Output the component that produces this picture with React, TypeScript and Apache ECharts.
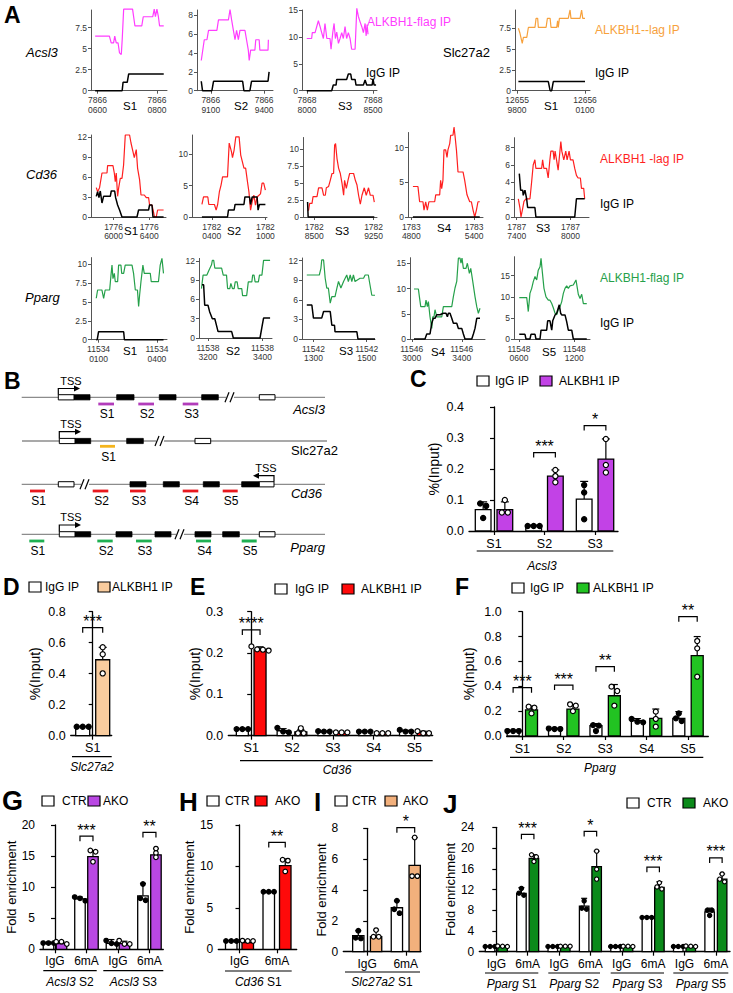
import React, { useEffect, useRef } from "react";
import * as echarts from "echarts";

const FONT = '"Liberation Sans", Arial, Helvetica, sans-serif';

// ---------------- Panel A : coverage tracks ----------------
const MAGENTA = "#ff3dff";
const ORANGE = "#f7a13c";
const RED = "#ff1f1f";
const GREEN = "#25a04a";

const acsl3S1Base = 78660000;
const acsl3S1Ticks = [600, 800];
const acsl3S1YTicks = [0, 2.5, 5, 7.5];
const acsl3S1Flag = [[592,6.5],[640,6.5],[646,5.7],[654,5.7],[658,6.5],[663,5.7],[669,5.7],[674,4.5],[680,4.3],[683,6.0],[688,9.7],[718,9.7],[726,7.7],[749,7.7],[754,8.8],[786,8.8],[791,9.7],[795,8.8],[800,9.7],[805,8.8],[809,7.7],[823,7.7]];
const acsl3S1IgG = [[592,0],[683,0],[686,1],[700,1],[705,2],[823,2]];

const acsl3S2Base = 78660000;
const acsl3S2Ticks = [9100, 9400];
const acsl3S2YTicks = [0, 2, 4, 6, 8];
const acsl3S2Flag = [[9046,3.2],[9063,5.4],[9078,5.4],[9087,6.4],[9134,6.4],[9143,7.5],[9199,7.5],[9208,8.6],[9217,7.5],[9227,6.4],[9236,5.4],[9245,6.4],[9255,5.4],[9264,6.4],[9292,6.4],[9301,5.4],[9311,4.3],[9316,3.2],[9324,4.3],[9348,4.3],[9353,5.4],[9372,5.4],[9376,4.3],[9422,4.3],[9424,5.4]];
const acsl3S2IgG = [[9046,1],[9053,0],[9106,0],[9115,1],[9279,1],[9286,0],[9320,0],[9329,1],[9422,1],[9428,2]];

const acsl3S3Base = 78680000;
const acsl3S3Ticks = [8000, 8500];
const acsl3S3YTicks = [0, 5, 10, 15];
const acsl3S3Flag = [[7998,9.7],[8035,9.7],[8040,10.8],[8061,10.8],[8086,13.0],[8099,11.9],[8111,10.8],[8124,9.7],[8136,12.5],[8150,9.7],[8174,9.7],[8182,7.7],[8195,10.8],[8205,12.5],[8215,9.7],[8225,10.9],[8238,8.8],[8250,9.7],[8263,10.8],[8275,9.7],[8288,11.9],[8300,9.7],[8313,10.8],[8326,9.7],[8338,7.7],[8364,7.7],[8377,15.3],[8389,13.8],[8402,12.8],[8415,11.9],[8427,10.8],[8440,12.5],[8448,10.2],[8455,12.3],[8462,10.5]];
const acsl3S3IgG = [[7998,0],[8187,0],[8199,1.05],[8220,1.05],[8225,2.1],[8300,2.1],[8313,3.1],[8331,3.1],[8338,2.1],[8364,2.1],[8371,1.05],[8427,1.05],[8440,2],[8452,1.05],[8493,1.05],[8500,2.2],[8508,1.05],[8523,1.05]];

const slc27a2S1Base = 126550000;
const slc27a2S1Ticks = [9800, 10100];
const slc27a2S1YTicks = [0, 2.5, 5, 7.5];
const slc27a2S1Flag = [[9806,7.5],[9813,6.9],[9823,5.7],[9828,6.4],[9843,6.4],[9850,7.6],[9879,7.6],[9884,8.7],[9891,8.7],[9894,7.6],[9928,7.6],[9934,8.7],[9946,8.7],[9950,7.6],[9975,7.6],[9979,8.4],[9982,7.6],[9987,8.7],[10026,8.7],[10034,9.7],[10038,8.7],[10078,8.7],[10085,9.7],[10090,8.7],[10100,8.7]];
const slc27a2S1IgG = [[9806,1.1],[9938,1.1],[9946,0],[9953,0],[9960,1.1],[10100,1.1]];

const cd36S1Base = 17760000;
const cd36S1Ticks = [6000, 6400];
const cd36S1YTicks = [0, 3, 6, 9, 12];
const cd36S1Flag = [[5806,4.4],[5821,3.8],[5843,4.4],[5870,6.6],[5926,6.6],[5933,7.7],[5993,7.7],[6008,6.6],[6019,5.3],[6030,6.6],[6045,3.1],[6056,4.3],[6075,5.8],[6094,5.8],[6112,7.8],[6131,12.3],[6179,12.3],[6195,11.1],[6217,9.8],[6232,8.9],[6254,10.1],[6269,7.3],[6291,5.6],[6307,3.3],[6344,3.3],[6366,2.9],[6392,2.9],[6403,1.8],[6430,1.8],[6448,0.7],[6459,0],[6478,0],[6493,1.05],[6560,1.05]];
const cd36S1IgG = [[5806,3.1],[5821,3.8],[5836,2.9],[5851,3.9],[5870,2.1],[5888,3.1],[5963,3.1],[5974,3.9],[6012,3.9],[6023,2.9],[6045,1.8],[6067,1.05],[6094,0],[6262,0],[6280,1.05],[6392,1.05],[6403,1.8],[6430,1.8],[6441,0],[6560,0]];

const cd36S2Base = 17820000;
const cd36S2Ticks = [400, 1000];
const cd36S2YTicks = [0, 5, 10];
const cd36S2Flag = [[290,2.0],[308,3.2],[356,3.2],[367,2.0],[430,2.0],[449,1.1],[466,2.0],[485,4.0],[504,5.1],[521,6.4],[576,6.4],[595,11.8],[621,10.4],[632,9.5],[650,10.7],[669,12.8],[706,12.8],[724,9.9],[760,7.8],[779,7.8],[797,5.9],[816,4.0],[834,1.1],[852,2.4],[871,3.5],[889,1.9],[907,3.2],[945,3.7],[963,5.4],[981,5.4],[1000,4.3]];
const cd36S2IgG = [[290,0],[576,0],[587,1.1],[650,1.1],[661,2.0],[760,2.0],[771,3.2],[822,3.2],[834,2.0],[852,3.2],[907,3.2],[918,1.1],[933,2.0],[1000,2.0]];

const cd36S3Base = 17820000;
const cd36S3Ticks = [8500, 9250];
const cd36S3YTicks = [0, 2.5, 5, 7.5, 10];
const cd36S3Flag = [[8415,1.0],[8428,1.0],[8441,2.0],[8471,2.0],[8484,3.0],[8534,3.0],[8554,4.3],[8597,4.3],[8618,3.2],[8639,3.2],[8652,4.3],[8681,4.5],[8702,5.4],[8724,6.4],[8744,6.4],[8757,10.6],[8769,10.8],[8787,8.6],[8807,7.2],[8829,6.4],[8850,5.0],[8871,3.2],[8883,5.4],[8905,4.2],[8926,5.4],[8947,6.4],[8997,6.4],[9019,5.4],[9040,4.7],[9060,3.2],[9082,1.9],[9103,3.2],[9132,4.3],[9157,3.2],[9186,4.3],[9208,3.2],[9243,3.2],[9259,2.2]];
const cd36S3IgG = [[8415,2.2],[8422,0],[9259,0]];

const cd36S4Base = 17830000;
const cd36S4Ticks = [4800, 5400];
const cd36S4YTicks = [0, 5, 10];
const cd36S4Flag = [[4815,4.4],[4863,4.4],[4879,2.2],[4911,2.2],[4921,1.0],[4937,2.2],[4953,1.0],[4968,2.2],[5023,2.2],[5033,3.2],[5071,3.2],[5080,5.3],[5090,4.1],[5102,5.3],[5112,9.7],[5128,9.7],[5141,8.6],[5150,9.7],[5167,10.6],[5176,11.8],[5198,11.8],[5208,13.0],[5217,11.8],[5231,9.7],[5246,6.5],[5294,6.5],[5310,5.3],[5332,3.2],[5358,2.2],[5374,2.2],[5390,1.0],[5406,0],[5422,1.0],[5437,2.2],[5454,2.2]];
const cd36S4IgG = [[4815,0],[5454,0]];

const cd36S5Base = 17870000;
const cd36S5Ticks = [7400, 8000];
const cd36S5YTicks = [0, 2, 4, 6, 8];
const cd36S5Flag = [[7418,2.1],[7437,1.0],[7448,0],[7467,1.0],[7481,1.8],[7503,2.1],[7548,2.1],[7567,4.1],[7584,6.0],[7603,6.6],[7614,5.6],[7678,5.6],[7689,6.6],[7703,5.6],[7733,5.6],[7751,4.5],[7770,6.6],[7781,7.6],[7806,7.6],[7817,6.6],[7828,7.6],[7844,6.6],[7862,5.4],[7873,6.6],[7892,8.7],[7903,7.6],[7925,6.6],[7947,7.6],[7962,6.6],[7984,7.6],[7999,6.6],[8028,6.6],[8047,5.6],[8066,4.8],[8084,4.5],[8110,4.5],[8122,3.3],[8147,3.3],[8158,2.1]];
const cd36S5IgG = [[7429,5.0],[7444,3.1],[7467,3.1],[7473,2.5],[7492,3.1],[7511,2.1],[7522,1.1],[7603,1.1],[7614,0],[8047,0],[8066,2.1],[8158,2.1]];

const ppargS1Base = 115340000;
const ppargS1Ticks = [100, 400];
const ppargS1YTicks = [0, 2.5, 5, 7.5, 10];
const ppargS1Flag = [[88,5.5],[95,6.6],[117,6.6],[126,5.5],[134,6.6],[157,6.6],[164,8.6],[169,9.9],[174,8.1],[181,8.8],[186,7.7],[198,7.7],[203,9.9],[215,9.9],[219,8.8],[229,8.8],[237,9.9],[272,9.9],[280,8.8],[289,6.6],[300,6.6],[306,4.4],[311,5.9],[318,7.7],[328,9.9],[335,8.8],[366,8.8],[371,7.7],[408,7.7],[417,9.9],[426,10.8],[434,8.8]];
const ppargS1IgG = [[88,0],[93,0],[100,1.06],[229,1.06],[233,0],[434,0]];

const ppargS2Base = 115380000;
const ppargS2Ticks = [3200, 3400];
const ppargS2YTicks = [0, 3, 6, 9, 12];
const ppargS2Flag = [[3176,7.7],[3182,9.8],[3196,9.8],[3204,10.6],[3213,11.4],[3216,12.1],[3221,12.1],[3225,10.9],[3250,10.9],[3256,9.8],[3268,9.8],[3272,7.7],[3280,7.7],[3284,8.5],[3290,7.7],[3296,7.7],[3300,8.75],[3307,8.75],[3311,7.7],[3324,7.7],[3327,6.6],[3342,6.6],[3348,8.75],[3361,8.75],[3364,9.8],[3369,9.8],[3373,8.75],[3385,8.75],[3389,9.8],[3398,9.8],[3404,12.1],[3428,12.1]];
const ppargS2IgG = [[3178,8.3],[3184,8.3],[3188,5.1],[3200,5.1],[3206,4.1],[3216,3.0],[3225,3.0],[3231,2.0],[3237,1.0],[3287,1.0],[3293,0],[3391,0],[3398,1.7],[3404,3.1],[3428,3.1]];

const ppargS3Base = 115420000;
const ppargS3Ticks = [1300, 1500];
const ppargS3YTicks = [0, 3, 6, 9, 12];
const ppargS3Flag = [[1275,9.8],[1322,9.8],[1328,10.8],[1331,12.1],[1338,12.1],[1344,9.3],[1350,7.8],[1356,7.8],[1363,5.5],[1369,6.5],[1381,6.5],[1388,7.8],[1394,8.8],[1403,7.8],[1413,8.8],[1425,9.8],[1431,8.8],[1438,9.8],[1444,8.8],[1450,9.8],[1456,8.8],[1475,9.3],[1488,9.3],[1494,9.8],[1506,9.8],[1510,8.8],[1519,6.7],[1531,6.7]];
const ppargS3IgG = [[1275,5.2],[1294,5.2],[1300,3.2],[1331,3.2],[1338,4.2],[1363,4.2],[1369,2.1],[1379,2.1],[1381,1.1],[1463,1.1],[1467,0],[1531,0]];

const ppargS4Base = 115460000;
const ppargS4Ticks = [3000, 3400];
const ppargS4YTicks = [0, 5, 10, 15];
const ppargS4Flag = [[3018,9.9],[3053,9.9],[3061,8.4],[3072,6.4],[3106,6.4],[3114,7.7],[3125,6.4],[3133,7.4],[3146,4.4],[3160,2.1],[3168,4.4],[3178,4.4],[3186,5.8],[3200,4.4],[3240,4.4],[3253,6.4],[3320,6.4],[3333,8.4],[3346,10.1],[3360,11.4],[3373,16.0],[3386,16.0],[3394,15.0],[3402,16.0],[3413,14.0],[3434,14.0],[3445,15.0],[3461,13.0],[3472,14.0],[3488,11.4],[3506,8.4],[3520,6.4],[3533,5.1],[3546,6.1]];
const ppargS4IgG = [[3018,0],[3106,0],[3120,1.0],[3146,1.0],[3160,3.1],[3173,4.1],[3186,4.1],[3200,4.8],[3226,4.8],[3253,5.1],[3274,5.1],[3285,4.4],[3293,5.1],[3306,5.1],[3320,4.1],[3333,3.1],[3360,3.1],[3373,2.1],[3400,2.1],[3413,1.0],[3426,0],[3480,0],[3493,1.0],[3506,2.1],[3520,4.1],[3546,4.1]];

const ppargS5Base = 115480000;
const ppargS5Ticks = [600, 1200];
const ppargS5YTicks = [0, 5, 10, 15];
const ppargS5Flag = [[603,9.8],[684,9.8],[701,6.5],[719,10.8],[738,12.0],[755,13.6],[774,14.8],[792,14.0],[809,16.3],[828,17.1],[839,19.1],[853,15.9],[871,12.0],[893,10.0],[918,9.2],[936,9.2],[955,8.4],[972,7.4],[991,6.1],[1009,5.7],[1026,6.9],[1045,7.7],[1063,8.8],[1081,10.8],[1099,12.0],[1117,12.6],[1135,12.0],[1153,12.6],[1189,12.8],[1218,14.0],[1233,12.0],[1243,10.6],[1262,9.6],[1280,10.6],[1298,8.4],[1335,8.4]];
const ppargS5IgG = [[603,1.1],[665,1.1],[676,0],[719,0],[730,1.1],[774,1.1],[784,0],[828,0],[839,2.1],[900,2.1],[911,4.3],[936,4.3],[955,2.1],[966,4.3],[991,5.7],[1009,6.1],[1037,8.1],[1052,6.1],[1063,5.7],[1099,5.7],[1117,4.1],[1135,2.1],[1172,2.1],[1189,0],[1335,0]];

const tracks = [
  { base: acsl3S1Base, ticks: acsl3S1Ticks, yTicks: acsl3S1YTicks, flag: acsl3S1Flag, igg: acsl3S1IgG, color: MAGENTA, site: "S1" },
  { base: acsl3S2Base, ticks: acsl3S2Ticks, yTicks: acsl3S2YTicks, flag: acsl3S2Flag, igg: acsl3S2IgG, color: MAGENTA, site: "S2" },
  { base: acsl3S3Base, ticks: acsl3S3Ticks, yTicks: acsl3S3YTicks, flag: acsl3S3Flag, igg: acsl3S3IgG, color: MAGENTA, site: "S3" },
  { base: slc27a2S1Base, ticks: slc27a2S1Ticks, yTicks: slc27a2S1YTicks, flag: slc27a2S1Flag, igg: slc27a2S1IgG, color: ORANGE, site: "S1" },
  { base: cd36S1Base, ticks: cd36S1Ticks, yTicks: cd36S1YTicks, flag: cd36S1Flag, igg: cd36S1IgG, color: RED, site: "S1" },
  { base: cd36S2Base, ticks: cd36S2Ticks, yTicks: cd36S2YTicks, flag: cd36S2Flag, igg: cd36S2IgG, color: RED, site: "S2" },
  { base: cd36S3Base, ticks: cd36S3Ticks, yTicks: cd36S3YTicks, flag: cd36S3Flag, igg: cd36S3IgG, color: RED, site: "S3" },
  { base: cd36S4Base, ticks: cd36S4Ticks, yTicks: cd36S4YTicks, flag: cd36S4Flag, igg: cd36S4IgG, color: RED, site: "S4" },
  { base: cd36S5Base, ticks: cd36S5Ticks, yTicks: cd36S5YTicks, flag: cd36S5Flag, igg: cd36S5IgG, color: RED, site: "S3" },
  { base: ppargS1Base, ticks: ppargS1Ticks, yTicks: ppargS1YTicks, flag: ppargS1Flag, igg: ppargS1IgG, color: GREEN, site: "S1" },
  { base: ppargS2Base, ticks: ppargS2Ticks, yTicks: ppargS2YTicks, flag: ppargS2Flag, igg: ppargS2IgG, color: GREEN, site: "S2" },
  { base: ppargS3Base, ticks: ppargS3Ticks, yTicks: ppargS3YTicks, flag: ppargS3Flag, igg: ppargS3IgG, color: GREEN, site: "S3" },
  { base: ppargS4Base, ticks: ppargS4Ticks, yTicks: ppargS4YTicks, flag: ppargS4Flag, igg: ppargS4IgG, color: GREEN, site: "S4" },
  { base: ppargS5Base, ticks: ppargS5Ticks, yTicks: ppargS5YTicks, flag: ppargS5Flag, igg: ppargS5IgG, color: GREEN, site: "S5" },
];

// layout of each track (px) and its axis ranges
const trackLayout = [
  { left: 91, right: 167, top: 10, bottom: 90.7, xMin: 578, xMax: 834, yMax: 9.6, sx: 130, sy: 106 },
  { left: 197, right: 273, top: 10, bottom: 90.7, xMin: 9022, xMax: 9450, yMax: 8.55, sx: 241, sy: 106 },
  { left: 302, right: 377, top: 10, bottom: 90.7, xMin: 7962, xMax: 8530, yMax: 15, sx: 345, sy: 106 },
  { left: 515, right: 590, top: 10, bottom: 90.7, xMin: 9791, xMax: 10122, yMax: 9.7, sx: 551, sy: 106 },
  { left: 91, right: 166, top: 135, bottom: 217, xMin: 5747, xMax: 6587, yMax: 12.3, sx: 131, sy: 231 },
  { left: 192, right: 267, top: 135, bottom: 217, xMin: 179, xMax: 1018, yMax: 13.1, sx: 234, sy: 231 },
  { left: 303, right: 377, top: 137.5, bottom: 217, xMin: 8357, xMax: 9293, yMax: 11.7, sx: 342, sy: 231 },
  { left: 408, right: 483, top: 132.5, bottom: 217, xMin: 4768, xMax: 5485, yMax: 12.2, sx: 444, sy: 228 },
  { left: 514, right: 589, top: 137.7, bottom: 217, xMin: 7370, xMax: 8206, yMax: 9.15, sx: 543, sy: 228 },
  { left: 91, right: 167, top: 257.6, bottom: 339.7, xMin: 61, xMax: 452, yMax: 10.9, sx: 130, sy: 351 },
  { left: 199, right: 272, top: 258.4, bottom: 338, xMin: 3167, xMax: 3435, yMax: 12.4, sx: 233, sy: 351 },
  { left: 302, right: 375, top: 258, bottom: 339, xMin: 1257, xMax: 1531, yMax: 12.4, sx: 346, sy: 351 },
  { left: 410, right: 485, top: 257.7, bottom: 339, xMin: 2986, xMax: 3586, yMax: 16.1, sx: 438, sy: 352 },
  { left: 514, right: 590, top: 256.7, bottom: 339, xMin: 546, xMax: 1370, yMax: 19.5, sx: 549, sy: 352 },
];

// ---------------- Bar panels C - J ----------------
const cCats = ["S1", "S2", "S3"];
const cIgGMean = [0.069, 0.017, 0.103];
const cIgGSd = [0.025, 0.002, 0.057];
const cIgGDots = [[0.081, 0.089, 0.042], [0.016, 0.016, 0.016], [0.148, 0.124, 0.038]];
const cAlkMean = [0.069, 0.177, 0.232];
const cAlkSd = [0.025, 0.02, 0.065];
const cAlkDots = [[0.1, 0.06, 0.06], [0.197, 0.177, 0.157], [0.297, 0.213, 0.189]];
const cSigCat = [1, 2];
const cSigLevel = [0.253, 0.34];
const cSigText = ["***", "*"];

const dCats = ["S1"];
const dIgGMean = [0.058];
const dIgGSd = [0.002];
const dIgGDots = [[0.058, 0.058, 0.058]];
const dAlkMean = [0.49];
const dAlkSd = [0.08];
const dAlkDots = [[0.57, 0.525, 0.402]];
const dSigCat = [0];
const dSigLevel = [0.697];
const dSigText = ["***"];

const eCats = ["S1", "S2", "S3", "S4", "S5"];
const eIgGMean = [0.016, 0.012, 0.01, 0.01, 0.011];
const eIgGSd = [0.001, 0.005, 0.001, 0.001, 0.002];
const eIgGDots = [[0.016, 0.016, 0.016], [0.019, 0.01, 0.008], [0.01, 0.011, 0.01], [0.01, 0.01, 0.01], [0.01, 0.014, 0.01]];
const eAlkMean = [0.208, 0.009, 0.007, 0.005, 0.008];
const eAlkSd = [0.007, 0.006, 0.001, 0.001, 0.003];
const eAlkDots = [[0.216, 0.208, 0.206, 0.209], [0.006, 0.018, 0.006], [0.008, 0.008, 0.008], [0.006, 0.006, 0.006], [0.006, 0.011, 0.006]];
const eSigCat = [0];
const eSigLevel = [0.256];
const eSigText = ["****"];

const fCats = ["S1", "S2", "S3", "S4", "S5"];
const fIgGMean = [0.04, 0.056, 0.083, 0.123, 0.142];
const fIgGSd = [0.004, 0.006, 0.017, 0.017, 0.054];
const fIgGDots = [[0.04, 0.04, 0.04], [0.056, 0.06, 0.056], [0.083, 0.088, 0.04], [0.137, 0.115, 0.11], [0.12, 0.182, 0.142]];
const fAlkMean = [0.21, 0.217, 0.324, 0.142, 0.646];
const fAlkSd = [0.03, 0.035, 0.09, 0.075, 0.154];
const fAlkDots = [[0.228, 0.236, 0.182], [0.244, 0.255, 0.2], [0.362, 0.397, 0.244], [0.196, 0.137, 0.075], [0.764, 0.705, 0.477]];
const fSigCat = [0, 1, 2, 4];
const fSigLevel = [0.389, 0.41, 0.558, 0.96];
const fSigText = ["***", "***", "**", "**"];

const gCats = ["IgG", "6mA", "IgG", "6mA"];
const gCtrMean = [0.97, 8.1, 0.97, 8.6];
const gCtrSd = [0.05, 0.3, 0.6, 2.0];
const gCtrDots = [[1.0, 1.0, 1.0], [8.4, 8.2, 7.8], [1.4, 0.86, 0.97], [10.5, 7.9, 8.2]];
const gAkoMean = [0.9, 14.9, 0.9, 15.2];
const gAkoSd = [0.25, 1.0, 0.4, 1.0];
const gAkoDots = [[0.86, 1.23, 1.23], [15.7, 15.9, 14.1], [0.86, 1.4, 0.86], [16.2, 15.5, 14.8]];
const gSigCat = [1, 3];
const gSigLevel = [18.2, 18.8];
const gSigText = ["***", "**"];

const hCats = ["IgG", "6mA"];
const hCtrMean = [1.04, 6.9];
const hCtrSd = [0.02, 0.05];
const hCtrDots = [[1.0, 1.0, 1.0], [6.95, 6.95, 6.95]];
const hAkoMean = [0.8, 10.1];
const hAkoSd = [0.25, 0.8];
const hAkoDots = [[1.0, 1.05, 1.0], [10.7, 10.8, 9.4]];
const hSigCat = [1];
const hSigLevel = [12.9];
const hSigText = ["**"];

const iCats = ["IgG", "6mA"];
const iCtrMean = [1.04, 2.85];
const iCtrSd = [0.32, 0.45];
const iCtrDots = [[1.36, 0.86, 0.9], [3.3, 2.5, 2.75]];
const iAkoMean = [0.97, 5.6];
const iAkoSd = [0.43, 1.8];
const iAkoDots = [[1.4, 0.97, 0.97], [7.4, 4.9, 4.9]];
const iSigCat = [1];
const iSigLevel = [8.04];
const iSigText = ["*"];

const jCats = ["IgG", "6mA", "IgG", "6mA", "IgG", "6mA", "IgG", "6mA"];
const jCtrMean = [1.0, 11.26, 1.0, 8.8, 1.0, 6.7, 1.0, 7.7];
const jCtrSd = [0.05, 1.1, 0.05, 1.5, 0.05, 0.1, 0.05, 0.7];
const jCtrDots = [[1.0, 1.0, 1.0], [12.2, 11.3, 10.9], [1.0, 1.0, 1.0], [9.8, 8.4, 8.2], [1.0, 1.0, 1.0], [6.6, 6.6, 6.6], [1.0, 1.0, 1.0], [8.0, 8.0, 7.0]];
const jAkoMean = [1.0, 18.0, 1.0, 16.4, 1.0, 12.4, 1.0, 14.0];
const jAkoSd = [0.1, 0.7, 0.05, 3.0, 0.05, 1.1, 0.05, 1.0];
const jAkoDots = [[1.1, 1.0, 1.05], [18.3, 18.7, 17.4], [1.05, 1.05, 1.05], [19.4, 15.9, 14.0], [1.05, 1.0, 1.05], [13.3, 12.5, 12.1], [1.1, 1.0, 1.05], [15.0, 13.5, 14.0]];
const jSigCat = [1, 3, 5, 7];
const jSigLevel = [22.65, 23.2, 16.3, 18.1];
const jSigText = ["***", "*", "***", "***"];

const PURPLE = "#c242e6";
const PEACH = "#f9cc9e";
const BAR_RED = "#ff0a0a";
const BAR_GREEN = "#22c322";
const PURPLE_G = "#b947e3";
const RED_H = "#ff0a0a";
const PEACH_I = "#f2b07c";
const DARK_GREEN = "#0b8a1a";

const barPanels = [
  { cats: cCats, aMean: cIgGMean, aSd: cIgGSd, aDots: cIgGDots, bMean: cAlkMean, bSd: cAlkSd, bDots: cAlkDots, color: PURPLE, sigCat: cSigCat, sigLevel: cSigLevel, sigText: cSigText, yMax: 0.4, yStep: 0.1, digits: 1, yName: "%(Input)" },
  { cats: dCats, aMean: dIgGMean, aSd: dIgGSd, aDots: dIgGDots, bMean: dAlkMean, bSd: dAlkSd, bDots: dAlkDots, color: PEACH, sigCat: dSigCat, sigLevel: dSigLevel, sigText: dSigText, yMax: 0.8, yStep: 0.2, digits: 1, yName: "%(Input)" },
  { cats: eCats, aMean: eIgGMean, aSd: eIgGSd, aDots: eIgGDots, bMean: eAlkMean, bSd: eAlkSd, bDots: eAlkDots, color: BAR_RED, sigCat: eSigCat, sigLevel: eSigLevel, sigText: eSigText, yMax: 0.3, yStep: 0.1, digits: 1, yName: "%(Input)" },
  { cats: fCats, aMean: fIgGMean, aSd: fIgGSd, aDots: fIgGDots, bMean: fAlkMean, bSd: fAlkSd, bDots: fAlkDots, color: BAR_GREEN, sigCat: fSigCat, sigLevel: fSigLevel, sigText: fSigText, yMax: 1.0, yStep: 0.2, digits: 1, yName: "%(Input)" },
  { cats: gCats, aMean: gCtrMean, aSd: gCtrSd, aDots: gCtrDots, bMean: gAkoMean, bSd: gAkoSd, bDots: gAkoDots, color: PURPLE_G, sigCat: gSigCat, sigLevel: gSigLevel, sigText: gSigText, yMax: 20, yStep: 5, digits: 0, yName: "Fold enrichment" },
  { cats: hCats, aMean: hCtrMean, aSd: hCtrSd, aDots: hCtrDots, bMean: hAkoMean, bSd: hAkoSd, bDots: hAkoDots, color: RED_H, sigCat: hSigCat, sigLevel: hSigLevel, sigText: hSigText, yMax: 15, yStep: 5, digits: 0, yName: "Fold enrichment" },
  { cats: iCats, aMean: iCtrMean, aSd: iCtrSd, aDots: iCtrDots, bMean: iAkoMean, bSd: iAkoSd, bDots: iAkoDots, color: PEACH_I, sigCat: iSigCat, sigLevel: iSigLevel, sigText: iSigText, yMax: 8, yStep: 2, digits: 0, yName: "Fold enrichment" },
  { cats: jCats, aMean: jCtrMean, aSd: jCtrSd, aDots: jCtrDots, bMean: jAkoMean, bSd: jAkoSd, bDots: jAkoDots, color: DARK_GREEN, sigCat: jSigCat, sigLevel: jSigLevel, sigText: jSigText, yMax: 24, yStep: 4, digits: 0, yName: "Fold enrichment" },
];

const barLayout = [
  { left: 469, right: 618, top: 407, bottom: 531, xMin: -0.495, xMax: 2.455, w: 15.7, gap: 6, cap: 8, r: 2.6, fs: 12.5, nameGap: 28, nameFs: 14 },
  { left: 70.7, right: 111.7, top: 611.7, bottom: 735.7, xMin: -0.55, xMax: 0.475, w: 14, gap: 6, cap: 8, r: 2.6, fs: 12.5, nameGap: 29, nameFs: 14 },
  { left: 228.3, right: 432.7, top: 611.7, bottom: 735.7, xMin: -0.561, xMax: 4.449, w: 12, gap: 5.7, cap: 7, r: 2.5, fs: 12.5, nameGap: 25, nameFs: 14 },
  { left: 506.7, right: 708.3, top: 611.7, bottom: 736, xMin: -0.377, xMax: 4.49, w: 12, gap: 6.4, cap: 7, r: 2.5, fs: 12.5, nameGap: 31, nameFs: 14 },
  { left: 40, right: 163.3, top: 825, bottom: 949.3, xMin: -0.476, xMax: 3.44, w: 10.5, gap: 2.5, cap: 6, r: 2.3, fs: 12, nameGap: 20, nameFs: 13 },
  { left: 218.3, right: 296.7, top: 825, bottom: 949.3, xMin: -0.565, xMax: 1.525, w: 11.5, gap: 5, cap: 6, r: 2.3, fs: 12, nameGap: 15, nameFs: 13 },
  { left: 343.3, right: 421, top: 828.3, bottom: 951.7, xMin: -0.619, xMax: 1.394, w: 11.3, gap: 6.5, cap: 6, r: 2.3, fs: 12, nameGap: 10, nameFs: 13 },
  { left: 479.3, right: 730, top: 827.3, bottom: 951.7, xMin: -0.542, xMax: 7.45, w: 9.5, gap: 3, cap: 6, r: 2.1, fs: 12, nameGap: 22, nameFs: 13 },
];

// ---------------- helpers ----------------
function fmtPos(base: number, v: number) {
  const full = Math.round(base + v);
  const head = Math.floor(full / 10000);
  const tail = String(full % 10000).padStart(4, "0");
  return head + "\n" + tail;
}

function txt(text: string, x: number, y: number, size: number, opts: any = {}) {
  const weight = opts.bold ? "bold " : "";
  const italic = opts.italic ? "italic " : "";
  return {
    type: "text",
    x,
    y,
    silent: true,
    style: {
      text,
      font: `${italic}${weight}${size}px ${FONT}`,
      fill: opts.color || "#000",
      textAlign: opts.align || "left",
      align: opts.align || "left",
      textVerticalAlign: opts.va || "middle",
      verticalAlign: opts.va || "middle",
      rich: opts.rich,
    },
  };
}
function ln(x1: number, y1: number, x2: number, y2: number, color = "#000", w = 1.2) {
  return { type: "line", silent: true, shape: { x1, y1, x2, y2 }, style: { stroke: color, lineWidth: w } };
}
function box(x: number, y: number, w: number, h: number, fill: string, stroke: string | null = "#000", lw = 1) {
  return { type: "rect", silent: true, shape: { x, y, width: w, height: h }, style: { fill, stroke: stroke || "none", lineWidth: stroke ? lw : 0 } };
}

function barRender(means: number[], sds: number[], dots: number[][], color: string, side: number, filledDots: boolean, L: any) {
  const off = (L.w + L.gap) / 2;
  return (params: any, api: any) => {
    const i = params.dataIndex;
    const m = means[i];
    const sd = sds[i];
    const p0 = api.coord([i, 0]);
    const p1 = api.coord([i, m]);
    const pe = api.coord([i, m + sd]);
    const cx = p0[0] + side * off;
    const children: any[] = [];
    children.push({ type: "line", shape: { x1: cx, y1: p1[1], x2: cx, y2: pe[1] }, style: { stroke: "#000", lineWidth: 1.2 } });
    children.push({ type: "line", shape: { x1: cx - L.cap / 2, y1: pe[1], x2: cx + L.cap / 2, y2: pe[1] }, style: { stroke: "#000", lineWidth: 1.2 } });
    children.push({ type: "rect", shape: { x: cx - L.w / 2, y: p1[1], width: L.w, height: p0[1] - p1[1] }, style: { fill: color, stroke: "#000", lineWidth: 1.3 } });
    const vals = dots[i];
    const ys = vals.map((v) => api.coord([i, v])[1]);
    const order = ys.map((_, k) => k).sort((a, b) => ys[a] - ys[b]);
    const clusters: number[][] = [];
    order.forEach((k) => {
      const last = clusters[clusters.length - 1];
      if (last && ys[k] - ys[last[last.length - 1]] < L.r * 1.8) last.push(k);
      else clusters.push([k]);
    });
    clusters.forEach((cl) => {
      const n = cl.length;
      cl.forEach((k, j) => {
        const x = cx + (j - (n - 1) / 2) * L.r * 2.3;
        children.push({
          type: "circle",
          shape: { cx: x, cy: ys[k], r: L.r },
          style: { fill: filledDots ? "#000" : "#fff", stroke: "#000", lineWidth: 1.2 },
        });
      });
    });
    return { type: "group", children };
  };
}

function sigRender(cats: number[], levels: number[], texts: string[], L: any) {
  const off = (L.w + L.gap) / 2;
  return (params: any, api: any) => {
    const j = params.dataIndex;
    const p = api.coord([cats[j], levels[j]]);
    const lx = p[0] - off;
    const rx = p[0] + off;
    const y = p[1];
    return {
      type: "group",
      children: [
        { type: "polyline", shape: { points: [[lx, y + 5], [lx, y], [rx, y], [rx, y + 5]] }, style: { stroke: "#000", fill: "none", lineWidth: 1.2 } },
        { type: "text", x: p[0], y: y - 6, style: { text: texts[j], font: `16px ${FONT}`, fill: "#000", align: "center", verticalAlign: "middle", textAlign: "center", textVerticalAlign: "middle" } },
      ],
    };
  };
}

// ---------------- panel B schematic ----------------
const GENE_GREY = "#8c8c8c";
const geneRows = [
  { y: 397.3, x0: 21.7, x1: 325, white: [[58.3, 74], [259.3, 275]], black: [[74, 90], [116.7, 134], [159.3, 176], [201.7, 218.3]], breaks: [230], tssX: 58.3, tssDir: 1, tssTip: 80, tssY: 388.5, tssTextX: 71, sites: [[98.3, 114], [138.3, 154], [182.7, 198.3]], siteY: 404, labelY: 413.5, color: "#b23cba", name: "Acsl3", italic: true, nameX: 325, nameY: 409 },
  { y: 441, x0: 22, x1: 327, white: [[59.3, 75], [195, 210.7]], black: [[75, 90.7], [126.7, 143.3]], breaks: [160], tssX: 59.3, tssDir: 1, tssTip: 81, tssY: 431.7, tssTextX: 71, sites: [[100, 115]], siteY: 446.3, labelY: 457, color: "#f4b41c", name: "Slc27a2", italic: false, nameX: 338, nameY: 450 },
  { y: 484.3, x0: 21.7, x1: 325, white: [[58.3, 74], [259.3, 274]], black: [[130, 146], [163.3, 179.3], [203.3, 219.3], [241.7, 259.3]], breaks: [85], tssX: 274, tssDir: -1, tssTip: 253, tssY: 475.7, tssTextX: 266, sites: [[30, 45], [92.7, 108.3], [130, 145.7], [182.7, 198.3], [222.7, 237.7]], siteY: 491, labelY: 501, color: "#e8181e", name: "Cd36", italic: true, nameX: 322, nameY: 493 },
  { y: 534.3, x0: 21.7, x1: 325, white: [[59.3, 75], [259.3, 275]], black: [[75, 90.7], [116, 132], [155, 171], [195, 211], [222.7, 239.3]], breaks: [180], tssX: 59.3, tssDir: 1, tssTip: 81, tssY: 525, tssTextX: 71, sites: [[29.3, 44.3], [97.3, 112.7], [136, 151.7], [196, 211], [241.7, 256.7]], siteY: 541, labelY: 551, color: "#1fb052", name: "Pparg", italic: true, nameX: 325, nameY: 547 },
];
const geneSiteLabels = [["S1", "S2", "S3"], ["S1"], ["S1", "S2", "S3", "S4", "S5"], ["S1", "S2", "S3", "S4", "S5"]];

function geneGraphics() {
  const els: any[] = [];
  geneRows.forEach((g, gi) => {
    els.push(ln(g.x0, g.y, g.x1, g.y, GENE_GREY, 1.3));
    g.breaks.forEach((bx) => {
      els.push(box(bx - 4, g.y - 2, 8, 4, "#fff", null));
      els.push(ln(bx - 5, g.y + 5, bx - 1, g.y - 5, "#000", 1.2));
      els.push(ln(bx, g.y + 5, bx + 4, g.y - 5, "#000", 1.2));
    });
    g.black.forEach(([a, b]) => els.push(box(a, g.y - 2.6, b - a, 5.2, "#000", "#000", 0.8)));
    g.white.forEach(([a, b]) => els.push(box(a, g.y - 2.6, b - a, 5.2, "#fff", "#000", 1)));
    const top = g.y - 2.6;
    els.push({ type: "polyline", silent: true, shape: { points: [[g.tssX, top], [g.tssX, g.tssY], [g.tssTip - g.tssDir * 4, g.tssY]] }, style: { stroke: "#000", fill: "none", lineWidth: 1.2 } });
    els.push({ type: "polygon", silent: true, shape: { points: [[g.tssTip, g.tssY], [g.tssTip - g.tssDir * 6, g.tssY - 3], [g.tssTip - g.tssDir * 6, g.tssY + 3]] }, style: { fill: "#000" } });
    els.push(txt("TSS", g.tssTextX, g.tssY - 8, 11, { align: "center" }));
    g.sites.forEach(([a, b], k) => {
      els.push(box(a, g.siteY - 1.4, b - a, 2.8, g.color, null));
      els.push(txt(geneSiteLabels[gi][k], (a + b) / 2 + 1, g.labelY, 12, { align: "center" }));
    });
    els.push(txt(g.name, g.nameX, g.nameY, 13, { italic: g.italic, align: "right" }));
  });
  return els;
}

// legends of bar panels
const legendRows = [
  { y: 381, fs: 12, items: [{ bx: 477, c: "#fff", tx: 495, t: "IgG IP" }, { bx: 540, c: PURPLE, tx: 559, t: "ALKBH1 IP" }] },
  { y: 587, fs: 12, items: [{ bx: 29, c: "#fff", tx: 45, t: "IgG IP" }, { bx: 98, c: PEACH, tx: 112, t: "ALKBH1 IP" }] },
  { y: 589, fs: 12, items: [{ bx: 275, c: "#fff", tx: 295, t: "IgG IP" }, { bx: 342, c: BAR_RED, tx: 361, t: "ALKBH1 IP" }] },
  { y: 588, fs: 12, items: [{ bx: 512, c: "#fff", tx: 530, t: "IgG IP" }, { bx: 577, c: BAR_GREEN, tx: 593, t: "ALKBH1 IP" }] },
  { y: 801, fs: 12, items: [{ bx: 42, c: "#fff", tx: 62, t: "CTR" }, { bx: 88, c: PURPLE_G, tx: 103, t: "AKO" }] },
  { y: 801, fs: 12, items: [{ bx: 207, c: "#fff", tx: 225, t: "CTR" }, { bx: 255, c: RED_H, tx: 275, t: "AKO" }] },
  { y: 801, fs: 12, items: [{ bx: 335, c: "#fff", tx: 352, t: "CTR" }, { bx: 385, c: PEACH_I, tx: 403, t: "AKO" }] },
  { y: 803, fs: 12, items: [{ bx: 627, c: "#fff", tx: 647, t: "CTR" }, { bx: 683, c: DARK_GREEN, tx: 703, t: "AKO" }] },
];

// group captions under bar panels
const groupCaptions = [
  { y: 551, lines: [[476.7, 613.3]], labels: [{ x: 542, y: 566, gene: "Acsl3", site: "" }] },
  { y: 756.7, lines: [[72, 111.7]], labels: [{ x: 92, y: 767, gene: "Slc27a2", site: "" }] },
  { y: 760.7, lines: [[240, 432.7]], labels: [{ x: 337, y: 770, gene: "Cd36", site: "" }] },
  { y: 757.3, lines: [[510, 703.3]], labels: [{ x: 600, y: 768, gene: "Pparg", site: "" }] },
  { y: 970.7, lines: [[43.3, 96.7], [103.3, 163.3]], labels: [{ x: 70, y: 982, gene: "Acsl3", site: "S2" }, { x: 133.3, y: 982, gene: "Acsl3", site: "S3" }] },
  { y: 971, lines: [[225, 291.7]], labels: [{ x: 258.3, y: 982, gene: "Cd36", site: "S1" }] },
  { y: 972, lines: [[345, 420]], labels: [{ x: 382, y: 982, gene: "Slc27a2", site: "S1" }] },
  { y: 973, lines: [[485, 538.3], [548.3, 600], [610.7, 664], [673.3, 728.3]], labels: [{ x: 511.7, y: 984, gene: "Pparg", site: "S1" }, { x: 574.2, y: 984, gene: "Pparg", site: "S2" }, { x: 637.3, y: 984, gene: "Pparg", site: "S3" }, { x: 700.8, y: 984, gene: "Pparg", site: "S5" }] },
];

const panelLetters = [
  { t: "A", x: 4, y: 15, fs: 23 }, { t: "B", x: 4, y: 381, fs: 23 }, { t: "C", x: 410, y: 379, fs: 23 },
  { t: "D", x: 3, y: 587, fs: 23 }, { t: "E", x: 190, y: 587, fs: 23 }, { t: "F", x: 455, y: 587, fs: 23 },
  { t: "G", x: 2, y: 801, fs: 27 }, { t: "H", x: 179, y: 802, fs: 26 }, { t: "I", x: 314, y: 802, fs: 26 }, { t: "J", x: 443, y: 804, fs: 26 },
];

const trackTexts = [
  { t: "Acsl3", x: 26, y: 52, c: "#000", italic: true, fs: 13 },
  { t: "Cd36", x: 26, y: 174, c: "#000", italic: true, fs: 13 },
  { t: "Pparg", x: 25, y: 297, c: "#000", italic: true, fs: 13 },
  { t: "Slc27a2", x: 443, y: 52, c: "#000", italic: false, fs: 13 },
  { t: "ALKBH1-flag IP", x: 367, y: 22, c: MAGENTA, italic: false, fs: 12 },
  { t: "IgG IP", x: 366, y: 73, c: "#000", italic: false, fs: 12 },
  { t: "ALKBH1--lag IP", x: 595, y: 30, c: ORANGE, italic: false, fs: 12 },
  { t: "IgG IP", x: 595, y: 73, c: "#000", italic: false, fs: 12 },
  { t: "ALKBH1 -lag IP", x: 600, y: 159, c: RED, italic: false, fs: 12 },
  { t: "IgG IP", x: 600, y: 204, c: "#000", italic: false, fs: 12 },
  { t: "ALKBH1-flag IP", x: 600, y: 278, c: GREEN, italic: false, fs: 12 },
  { t: "IgG IP", x: 600, y: 323, c: "#000", italic: false, fs: 12 },
];

function buildOption() {
  const grid: any[] = [];
  const xAxis: any[] = [];
  const yAxis: any[] = [];
  const series: any[] = [];
  const graphic: any[] = [];

  tracks.forEach((t, k) => {
    const L = trackLayout[k];
    grid.push({ left: L.left, top: L.top, width: L.right - L.left, height: L.bottom - L.top, containLabel: false, outerBoundsMode: "none" });
    xAxis.push({
      type: "value", gridIndex: k, min: L.xMin, max: L.xMax,
      axisLine: { show: true, onZero: false, lineStyle: { color: "#555", width: 1 } },
      axisTick: { show: true, customValues: t.ticks, length: 3, lineStyle: { color: "#555" } },
      axisLabel: { show: true, customValues: t.ticks, formatter: (v: number) => fmtPos(t.base, v), fontSize: 8.5, lineHeight: 9.5, color: "#333", margin: 5, fontFamily: FONT },
      splitLine: { show: false },
    });
    yAxis.push({
      type: "value", gridIndex: k, min: 0, max: L.yMax,
      axisLine: { show: true, lineStyle: { color: "#555", width: 1 } },
      axisTick: { show: true, customValues: t.yTicks, length: 3, lineStyle: { color: "#555" } },
      axisLabel: { show: true, customValues: t.yTicks, fontSize: 8.5, color: "#333", margin: 4, fontFamily: FONT },
      splitLine: { show: false },
    });
    series.push({ type: "line", xAxisIndex: k, yAxisIndex: k, data: t.flag, showSymbol: false, symbol: "none", clip: false, silent: true, lineStyle: { color: t.color, width: 1.2 } });
    series.push({ type: "line", xAxisIndex: k, yAxisIndex: k, data: t.igg, showSymbol: false, symbol: "none", clip: false, silent: true, lineStyle: { color: "#000", width: 1.5 } });
    graphic.push(txt(t.site, L.sx, L.sy, 11.5, { align: "center" }));
  });

  barPanels.forEach((p, n) => {
    const L = barLayout[n];
    const gi = tracks.length + n;
    const idx = p.cats.map((_, i) => i);
    grid.push({ left: L.left, top: L.top, width: L.right - L.left, height: L.bottom - L.top, containLabel: false, outerBoundsMode: "none" });
    xAxis.push({
      type: "value", gridIndex: gi, min: L.xMin, max: L.xMax,
      axisLine: { show: true, onZero: false, lineStyle: { color: "#000", width: 1.3 } },
      axisTick: { show: true, customValues: idx, length: 4, lineStyle: { color: "#000", width: 1.2 } },
      axisLabel: { show: true, customValues: idx, formatter: (v: number) => p.cats[Math.round(v)], fontSize: L.fs, color: "#000", margin: 6, fontFamily: FONT },
      splitLine: { show: false },
    });
    yAxis.push({
      type: "value", gridIndex: gi, min: 0, max: p.yMax, interval: p.yStep,
      name: p.yName, nameLocation: "middle", nameRotate: 90, nameGap: L.nameGap,
      nameTextStyle: { fontSize: L.nameFs, color: "#000", fontFamily: FONT },
      axisLine: { show: true, lineStyle: { color: "#000", width: 1.3 } },
      axisTick: { show: true, length: 4, lineStyle: { color: "#000", width: 1.2 } },
      axisLabel: { show: true, formatter: (v: number) => v.toFixed(p.digits), fontSize: L.fs, color: "#000", margin: 5, fontFamily: FONT },
      splitLine: { show: false },
    });
    series.push({
      type: "custom", xAxisIndex: gi, yAxisIndex: gi, clip: false, silent: true,
      encode: { x: 0, y: 1 },
      data: p.aMean.map((m, i) => [i, m]),
      renderItem: barRender(p.aMean, p.aSd, p.aDots, "#fff", -1, true, L),
    });
    series.push({
      type: "custom", xAxisIndex: gi, yAxisIndex: gi, clip: false, silent: true,
      encode: { x: 0, y: 1 },
      data: p.bMean.map((m, i) => [i, m]),
      renderItem: barRender(p.bMean, p.bSd, p.bDots, p.color, 1, false, L),
    });
    series.push({
      type: "custom", xAxisIndex: gi, yAxisIndex: gi, clip: false, silent: true,
      encode: { x: 0, y: 1 },
      data: p.sigCat.map((c, j) => [c, p.sigLevel[j]]),
      renderItem: sigRender(p.sigCat, p.sigLevel, p.sigText, L),
    });
  });

  panelLetters.forEach((l) => graphic.push(txt(l.t, l.x, l.y, l.fs, { bold: true })));
  trackTexts.forEach((t) => graphic.push(txt(t.t, t.x, t.y, t.fs, { italic: t.italic, color: t.c })));
  geneGraphics().forEach((e) => graphic.push(e));
  legendRows.forEach((r) => {
    r.items.forEach((it) => {
      graphic.push(box(it.bx, r.y - 5, 12, 10, it.c, "#000", 1.2));
      graphic.push(txt(it.t, it.tx, r.y, r.fs));
    });
  });
  groupCaptions.forEach((g) => {
    g.lines.forEach(([a, b]) => graphic.push(ln(a, g.y, b, g.y, "#000", 1.2)));
    g.labels.forEach((l) => {
      const text = l.site ? `{i|${l.gene}} ${l.site}` : `{i|${l.gene}}`;
      graphic.push(txt(text, l.x, l.y, 12, { align: "center", rich: { i: { fontStyle: "italic", fontSize: 12, fontFamily: FONT } } }));
    });
  });

  return {
    animation: false,
    backgroundColor: "#fff",
    textStyle: { fontFamily: FONT },
    grid,
    xAxis,
    yAxis,
    series,
    graphic: { elements: graphic },
  };
}

export default function App() {
  const ref = useRef<HTMLDivElement>(null);
  useEffect(() => {
    if (!ref.current) return;
    const chart = echarts.init(ref.current, undefined, { renderer: "svg" });
    chart.setOption(buildOption() as any);
    return () => chart.dispose();
  }, []);
  return <div ref={ref} style={{ position: "absolute", left: 0, top: 0, width: 733, height: 993, background: "#fff" }} />;
}
